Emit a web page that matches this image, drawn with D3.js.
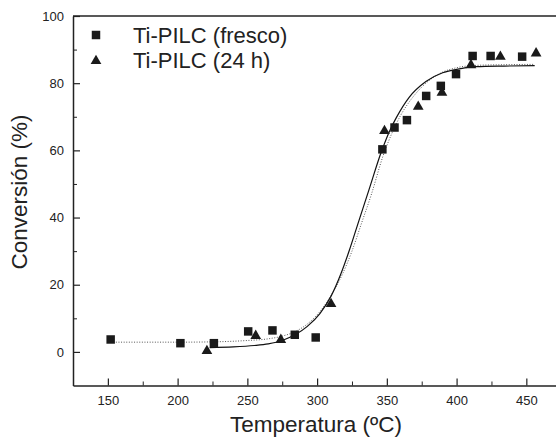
<!DOCTYPE html>
<html>
<head>
<meta charset="utf-8">
<script src="https://cdn.jsdelivr.net/npm/d3@7"></script>
<style>
    body { margin: 0; background: #fff; }
    svg { display: block; font-family: "Liberation Sans", Arial, sans-serif; }
    .axis path, .axis line { stroke: #222; }
    .axis text { font-size: 13px; fill: #222; font-family: "Liberation Sans", Arial, sans-serif; }
</style>
</head>
<body>
<script>
/* Conversión vs temperatura, Ti-PILC */

//measured points, fresh catalyst (squares)
var frescoTemp = [152, 202, 226, 250.6, 268, 284, 299, 346.8, 355.5, 364.4, 378.2, 388.7, 399.6, 411.5, 424.4, 447];
var frescoConv = [3.7, 2.6, 2.6, 6.1, 6.4, 5.1, 4.3, 60.3, 66.8, 69, 76.2, 79.2, 82.7, 88.1, 88.1, 87.9];

//measured points, after 24 h (triangles)
var usadoTemp = [221, 256, 274, 310, 348.3, 372.5, 389.5, 410.3, 431.4, 457];
var usadoConv = [0.3, 4.8, 3.6, 14.3, 65.8, 73, 77.2, 85.4, 87.9, 88.9];

//fitted curves
var solidTemp = [223, 240, 255, 265, 275, 285, 293, 302, 310, 317, 323, 330, 337, 346, 352, 357, 366, 378, 390, 400, 414, 434, 456];
var solidConv = [1.3, 1.5, 1.9, 2.4, 3.4, 5.3, 7.6, 11.4, 16.6, 23.2, 30.1, 39.1, 48, 59.5, 65.8, 69.9, 75.8, 80.5, 83.1, 84.1, 84.9, 85.1, 85.2];

var dotTemp = [152, 180, 200, 226, 250, 265, 275, 284, 293, 302, 310, 318, 325, 332, 339, 347, 353, 360, 368, 378, 390, 400, 414, 434, 456];
var dotConv = [2.9, 2.9, 2.9, 3.0, 3.4, 3.9, 4.7, 6.0, 8.3, 12.0, 16.8, 23, 30, 38.5, 47, 58, 64.5, 70.5, 75.5, 80, 83.3, 84.6, 85.3, 85.5, 85.6];

var xTicks = [150, 200, 250, 300, 350, 400, 450];
var xMinor = [175, 225, 275, 325, 375, 425];
var yTicks = [0, 20, 40, 60, 80, 100];
var yMinor = [10, 30, 50, 70, 90];

var legendLabels = ["Ti-PILC (fresco)", "Ti-PILC (24 h)"];

window.onload = drawChart();

function drawChart(){

    var width = 556,
        height = 438;

    var svg = d3.select("body")
        .append("svg")
        .attr("width", width)
        .attr("height", height);

    //scales, x runs past the right edge of the picture
    var x = d3.scaleLinear()
        .domain([125, 475])
        .range([73, 561.2]);

    var y = d3.scaleLinear()
        .domain([-10, 100])
        .range([385.5, 16]);

    //minor ticks first
    svg.append("g")
        .attr("class", "axis")
        .attr("transform", "translate(0," + y(-10) + ")")
        .call(d3.axisBottom(x).tickValues(xMinor).tickSize(-4).tickSizeOuter(0).tickFormat(""))
        .select(".domain").remove();

    svg.append("g")
        .attr("class", "axis")
        .attr("transform", "translate(" + x(125) + ",0)")
        .call(d3.axisLeft(y).tickValues(yMinor).tickSize(-4).tickSizeOuter(0).tickFormat(""))
        .select(".domain").remove();

    //major axes, ticks pointing inward
    var xAxis = svg.append("g")
        .attr("class", "axis")
        .attr("transform", "translate(0," + y(-10) + ")")
        .call(d3.axisBottom(x).tickValues(xTicks).tickSize(-7).tickSizeOuter(0).tickPadding(10));
    xAxis.select(".domain").attr("stroke-width", 1.5);
    xAxis.selectAll(".tick line").attr("stroke-width", 1.2);

    var yAxis = svg.append("g")
        .attr("class", "axis")
        .attr("transform", "translate(" + x(125) + ",0)")
        .call(d3.axisLeft(y).tickValues(yTicks).tickSize(-7).tickSizeOuter(0).tickPadding(9));
    yAxis.select(".domain").attr("stroke-width", 1.5);
    yAxis.selectAll(".tick line").attr("stroke-width", 1.2);

    //top frame line
    svg.append("line")
        .attr("x1", x(125))
        .attr("x2", width)
        .attr("y1", y(100))
        .attr("y2", y(100))
        .attr("stroke", "#222")
        .attr("stroke-width", 1.5);

    //fit curves
    var line = d3.line()
        .x(function(d){ return x(d[0]); })
        .y(function(d){ return y(d[1]); })
        .curve(d3.curveMonotoneX);

    svg.append("path")
        .datum(d3.zip(dotTemp, dotConv))
        .attr("d", line)
        .attr("fill", "none")
        .attr("stroke", "#555")
        .attr("stroke-width", 1)
        .attr("stroke-dasharray", "1,1.6");

    svg.append("path")
        .datum(d3.zip(solidTemp, solidConv))
        .attr("d", line)
        .attr("fill", "none")
        .attr("stroke", "#111")
        .attr("stroke-width", 1.2);

    //data points
    var square = d3.symbol().type(d3.symbolSquare).size(72);
    var triangle = d3.symbol().type(d3.symbolTriangle).size(50);

    svg.selectAll(".fresco")
        .data(d3.zip(frescoTemp, frescoConv))
        .enter()
        .append("path")
        .attr("class", "fresco")
        .attr("d", square)
        .attr("transform", function(d){ return "translate(" + x(d[0]) + "," + y(d[1]) + ")"; })
        .attr("fill", "#1a1a1a");

    svg.selectAll(".usado")
        .data(d3.zip(usadoTemp, usadoConv))
        .enter()
        .append("path")
        .attr("class", "usado")
        .attr("d", triangle)
        .attr("transform", function(d){ return "translate(" + x(d[0]) + "," + y(d[1]) + ")"; })
        .attr("fill", "#1a1a1a");

    //legend
    var legend = svg.append("g");
    legend.append("path")
        .attr("d", square)
        .attr("transform", "translate(96,35)")
        .attr("fill", "#1a1a1a");
    legend.append("path")
        .attr("d", triangle)
        .attr("transform", "translate(96,61)")
        .attr("fill", "#1a1a1a");
    legend.selectAll("text")
        .data(legendLabels)
        .enter()
        .append("text")
        .attr("x", 133)
        .attr("y", function(d, i){ return 43 + i * 25; })
        .attr("font-size", 22)
        .attr("fill", "#222")
        .text(function(d){ return d; });

    //axis titles
    svg.append("text")
        .attr("x", 316)
        .attr("y", 432)
        .attr("text-anchor", "middle")
        .attr("font-size", 22.5)
        .attr("fill", "#222")
        .text("Temperatura (ºC)");

    svg.append("text")
        .attr("transform", "translate(27,192) rotate(-90)")
        .attr("text-anchor", "middle")
        .attr("font-size", 22.5)
        .attr("fill", "#222")
        .text("Conversión (%)");
};
</script>
</body>
</html>
